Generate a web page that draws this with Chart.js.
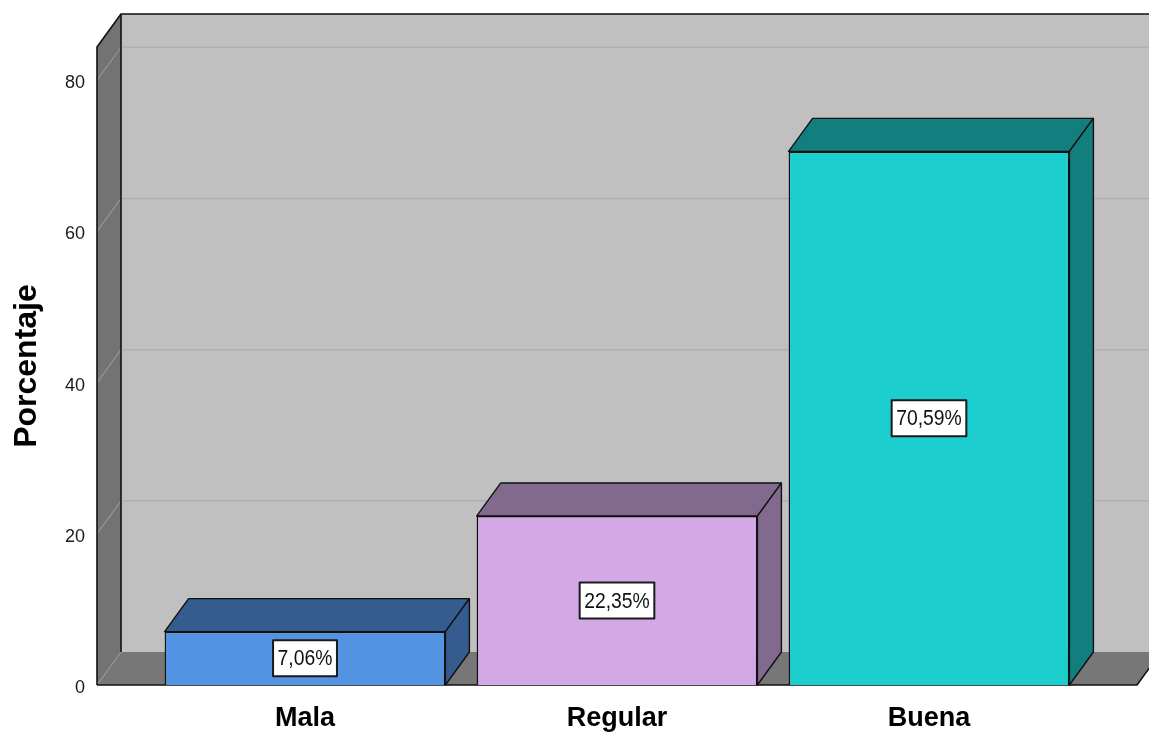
<!DOCTYPE html>
<html>
<head>
<meta charset="utf-8">
<script src="https://cdn.jsdelivr.net/npm/chart.js@4"></script>
<style>
  html, body { margin: 0; padding: 0; background: #fff; }
  #wrap { width: 1149px; height: 732px; position: relative; }
</style>
</head>
<body>
<div id="wrap"><canvas id="chart"></canvas></div>
<script>
const categories = ['Mala', 'Regular', 'Buena'];
const percentages = [7.06, 22.35, 70.59];
const valueLabels = ['7,06%', '22,35%', '70,59%'];
const yTicks = [0, 20, 40, 60, 80];

const frontColors = ['#5294e2', '#d2a9e5', '#1ccece'];
const shadeColors = ['#345c8f', '#826a8f', '#127e7e'];

const DX = 24;   // depth offset
const DY = 33;
const FONT = '"Liberation Sans", Arial, sans-serif';

function poly(ctx, pts, fill, stroke, lw) {
    ctx.beginPath();
    ctx.moveTo(pts[0][0], pts[0][1]);
    for (let i = 1; i < pts.length; i++) ctx.lineTo(pts[i][0], pts[i][1]);
    ctx.closePath();
    if (fill) { ctx.fillStyle = fill; ctx.fill(); }
    if (stroke) { ctx.strokeStyle = stroke; ctx.lineWidth = lw || 1; ctx.stroke(); }
}

function line(ctx, x1, y1, x2, y2, color, lw) {
    ctx.beginPath();
    ctx.moveTo(x1, y1);
    ctx.lineTo(x2, y2);
    ctx.strokeStyle = color;
    ctx.lineWidth = lw;
    ctx.stroke();
}

// walls, floor and gridlines behind the bars
const wallsPlugin = {
    id: 'walls',
    beforeDatasetsDraw(chart) {
        const ctx = chart.ctx;
        const a = chart.chartArea;
        const y = chart.scales.y;
        ctx.save();
        // back wall
        poly(ctx, [[a.left + DX, a.top - DY], [a.right + DX, a.top - DY],
                   [a.right + DX, a.bottom - DY], [a.left + DX, a.bottom - DY]], '#c0c0c0');
        // left wall
        poly(ctx, [[a.left, a.top], [a.left + DX, a.top - DY],
                   [a.left + DX, a.bottom - DY], [a.left, a.bottom]], '#737373');
        // floor
        poly(ctx, [[a.left, a.bottom], [a.left + DX, a.bottom - DY],
                   [a.right + DX, a.bottom - DY], [a.right, a.bottom]], '#777777');
        // gridlines
        yTicks.forEach(v => {
            const py = y.getPixelForValue(v);
            if (v > 0) line(ctx, a.left + DX, py - DY, a.right + DX, py - DY, '#b0b0b0', 1.5);
            line(ctx, a.left, py, a.left + DX, py - DY, '#959595', 1.2);
        });
        // edges
        ctx.lineJoin = 'round';
        ctx.beginPath();
        ctx.moveTo(a.left, a.bottom);
        ctx.lineTo(a.left, a.top);
        ctx.lineTo(a.left + DX, a.top - DY);
        ctx.lineTo(a.right + DX, a.top - DY);
        ctx.strokeStyle = '#111';
        ctx.lineWidth = 1.6;
        ctx.stroke();
        line(ctx, a.left + DX, a.top - DY, a.left + DX, a.bottom - DY, '#111', 1.6);
        ctx.beginPath();
        ctx.moveTo(a.left, a.bottom);
        ctx.lineTo(a.right, a.bottom);
        ctx.lineTo(a.right + DX, a.bottom - DY);
        ctx.strokeStyle = '#111';
        ctx.lineWidth = 1.6;
        ctx.stroke();
        ctx.restore();
    },
    afterDatasetsDraw(chart) {
        const ctx = chart.ctx;
        const meta = chart.getDatasetMeta(0);
        ctx.save();
        ctx.lineJoin = 'round';
        meta.data.forEach((bar, i) => {
            const l = bar.x - bar.width / 2;
            const r = bar.x + bar.width / 2;
            const t = bar.y;
            const b = bar.base;
            // top face
            poly(ctx, [[l, t], [l + DX, t - DY], [r + DX, t - DY], [r, t]], shadeColors[i], '#111', 1.4);
            // side face
            poly(ctx, [[r, t], [r + DX, t - DY], [r + DX, b - DY], [r, b]], shadeColors[i], '#111', 1.4);
            // value label (slightly condensed text like the original)
            ctx.font = '22px ' + FONT;
            const sx = 0.88;
            const tw = ctx.measureText(valueLabels[i]).width * sx;
            const bw = tw + 9, bh = 36;
            const cy = (t + b) / 2;
            ctx.fillStyle = '#fff';
            ctx.fillRect(bar.x - bw / 2, cy - bh / 2, bw, bh);
            ctx.strokeStyle = '#1a1a1a';
            ctx.lineWidth = 2;
            ctx.strokeRect(bar.x - bw / 2, cy - bh / 2, bw, bh);
            ctx.save();
            ctx.translate(bar.x, cy + 1);
            ctx.scale(sx, 1);
            ctx.fillStyle = '#111';
            ctx.textAlign = 'center';
            ctx.textBaseline = 'middle';
            ctx.fillText(valueLabels[i], 0, 0);
            ctx.restore();
        });
        ctx.restore();
    }
};

const ctx = document.getElementById('chart').getContext('2d');
new Chart(ctx, {
    type: 'bar',
    data: {
        datasets: [{
            data: percentages.map((v, i) => ({ x: i, y: v })),
            backgroundColor: frontColors,
            borderColor: '#111',
            borderWidth: 1.5,
            barPercentage: 0.9,
            categoryPercentage: 1.0
        }]
    },
    options: {
        responsive: true,
        maintainAspectRatio: false,
        animation: false,
        layout: { padding: { top: 47, right: 12, left: 0, bottom: 0 } },
        plugins: {
            legend: { display: false },
            tooltip: { enabled: false }
        },
        scales: {
            x: {
                type: 'linear',
                offset: false,
                min: -0.6667,
                max: 2.6667,
                afterBuildTicks: scale => { scale.ticks = categories.map((c, i) => ({ value: i })); },
                afterFit: scale => { scale.height = 47; },
                grid: { display: false, drawTicks: false, offset: false },
                border: { display: false },
                ticks: {
                    callback: v => categories[v],
                    padding: 17,
                    color: '#000',
                    font: { family: FONT, size: 27, weight: 'bold' },
                    maxRotation: 0
                }
            },
            y: {
                min: 0,
                max: 84.4,
                afterBuildTicks: scale => { scale.ticks = yTicks.map(v => ({ value: v })); },
                afterFit: scale => { scale.width = 97; },
                grid: { display: false, drawTicks: false },
                border: { display: false },
                ticks: {
                    padding: 12,
                    labelOffset: 3,
                    color: '#1a1a1a',
                    font: { family: FONT, size: 18 }
                },
                title: {
                    display: true,
                    text: 'Porcentaje',
                    color: '#000',
                    padding: { top: 8, bottom: 0 },
                    font: { family: FONT, size: 32, weight: 'bold' }
                }
            }
        }
    },
    plugins: [wallsPlugin]
});
</script>
</body>
</html>
